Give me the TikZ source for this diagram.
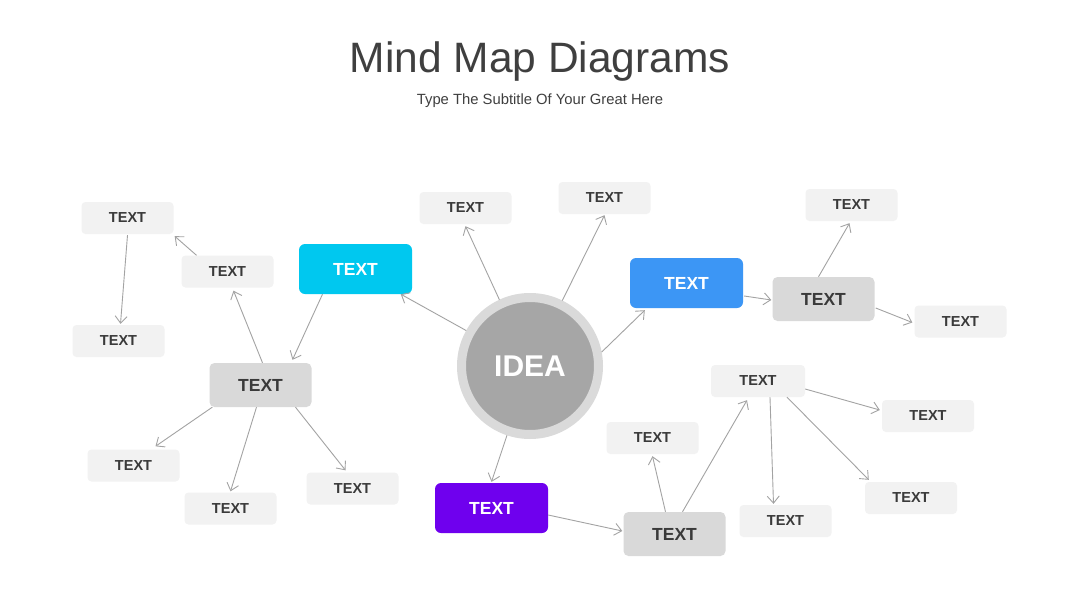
\documentclass[tikz,border=0pt]{standalone}
\usepackage{fontspec}
\setmainfont{Liberation Sans}
\usetikzlibrary{arrows.meta}
\definecolor{titlec}{HTML}{3F3F3F}
\definecolor{txtc}{HTML}{3A3A3A}
\definecolor{lightbox}{HTML}{F2F2F2}
\definecolor{midbox}{HTML}{D9D9D9}
\definecolor{cyanbox}{HTML}{00C8EF}
\definecolor{bluebox}{HTML}{3C96F5}
\definecolor{purplebox}{HTML}{6F00EE}
\definecolor{ideain}{HTML}{A6A6A6}
\definecolor{idearing}{HTML}{DADADA}
\definecolor{linec}{HTML}{A3A3A3}
\tikzset{
  lbox/.style={rectangle, rounded corners=4pt, fill=lightbox, minimum width=92pt, minimum height=32pt, inner sep=0pt, text=txtc, font=\fontsize{14.5}{16}\selectfont\bfseries},
  mbox/.style={rectangle, rounded corners=5pt, fill=midbox, minimum width=102pt, minimum height=44pt, inner sep=0pt, text=txtc, font=\fontsize{17.5}{20}\selectfont\bfseries},
  cbox/.style={rectangle, rounded corners=6pt, minimum width=113pt, minimum height=50pt, inner sep=0pt, text=white, font=\fontsize{17.5}{20}\selectfont\bfseries},
  arr/.style={draw=linec, line width=0.9pt, -{Straight Barb[length=7pt,width=12pt,line width=0.9pt]}},
}
\begin{document}
\begin{tikzpicture}[x=1pt,y=-1pt]
\useasboundingbox[fill=white] (0,0) rectangle (1080,608);
% title
\node[text=titlec, font=\fontsize{42.5}{48}\selectfont] (title) at (540,62) {Mind Map Diagrams};
\node[text=titlec, font=\fontsize{14.8}{17}\selectfont] (sub) at (540,101) {Type The Subtitle Of Your Great Here};
% center
\node[circle, fill=ideain, draw=idearing, line width=9pt, minimum size=137pt, inner sep=0pt, text=white, font=\fontsize{30}{34}\selectfont\bfseries] (idea) at (530,366) {IDEA};
% colored
\node[cbox, fill=cyanbox] (cyan) at (355.5,269) {TEXT};
\node[cbox, fill=bluebox] (blue) at (686.5,283) {TEXT};
\node[cbox, fill=purplebox] (purple) at (491.5,508) {TEXT};
% mid
\node[mbox] (lg) at (260.5,385) {TEXT};
\node[mbox] (rg) at (823.5,299) {TEXT};
\node[mbox] (bg) at (674.5,534) {TEXT};
% light
\node[lbox] (l1) at (127.5,218) {TEXT};
\node[lbox] (l2) at (227.5,271.5) {TEXT};
\node[lbox] (l3) at (118.5,341) {TEXT};
\node[lbox] (l4) at (133.5,465.5) {TEXT};
\node[lbox] (l5) at (230.5,508.5) {TEXT};
\node[lbox] (l6) at (352.5,488.5) {TEXT};
\node[lbox] (t1) at (465.5,208) {TEXT};
\node[lbox] (t2) at (604.5,198) {TEXT};
\node[lbox] (rt) at (851.5,205) {TEXT};
\node[lbox] (r) at (960.5,321.5) {TEXT};
\node[lbox] (b1) at (652.5,438) {TEXT};
\node[lbox, minimum width=94pt] (b2) at (758,381) {TEXT};
\node[lbox] (b3) at (928,416) {TEXT};
\node[lbox] (b4) at (785.5,521) {TEXT};
\node[lbox] (b5) at (911,498) {TEXT};
% connectors (yshift is in page direction: positive = up)
\draw[arr] (idea) -- (cyan);
\draw[arr] (idea) -- ([yshift=-2pt]t1.south);
\draw[arr] (idea) -- ([yshift=-1pt]t2.south);
\draw[arr] (idea.11) -- ([xshift=15pt,yshift=-2pt]blue.south west);
\draw[arr] (idea) -- ([yshift=1pt]purple.north);
\draw[arr] ([xshift=-33pt]cyan.south) -- ([xshift=32pt,yshift=3pt]lg.north);
\draw[arr] ([xshift=2pt]lg.north) -- ([xshift=6pt,yshift=-3pt]l2.south);
\draw[arr] ([xshift=-31pt]l2.north) -- ([xshift=1pt,yshift=-2pt]l1.south east);
\draw[arr] ([yshift=-1pt]l1.south) -- ([xshift=2pt,yshift=1pt]l3.north);
\draw[arr] ([xshift=3pt]lg.south west) -- ([xshift=22pt,yshift=3pt]l4.north);
\draw[arr] ([xshift=-4pt]lg.south) -- ([yshift=1pt]l5.north);
\draw[arr] ([xshift=35pt]lg.south) -- ([xshift=-7pt,yshift=2pt]l6.north);
\draw[arr] ([xshift=1pt,yshift=-13pt]blue.east) -- ([xshift=-1pt,yshift=-1pt]rg.west);
\draw[arr] ([xshift=-5pt]rg.north) -- ([xshift=-2pt,yshift=-2pt]rt.south);
\draw[arr] ([xshift=1pt,yshift=-9pt]rg.east) -- ([xshift=-2pt,yshift=-1pt]r.west);
\draw[arr] ([yshift=-7pt]purple.east) -- ([xshift=-1pt,yshift=3pt]bg.west);
\draw[arr] ([xshift=-9pt]bg.north) -- ([yshift=-2pt]b1.south);
\draw[arr] ([xshift=8pt]bg.north) -- ([xshift=-11pt,yshift=-3pt]b2.south);
\draw[arr] ([yshift=-8pt]b2.east) -- ([xshift=-2pt,yshift=6pt]b3.west);
\draw[arr] ([xshift=12pt]b2.south) -- ([xshift=-12pt,yshift=1pt]b4.north);
\draw[arr] ([xshift=29pt]b2.south) -- ([xshift=4pt,yshift=2pt]b5.north west);
\end{tikzpicture}
\end{document}
